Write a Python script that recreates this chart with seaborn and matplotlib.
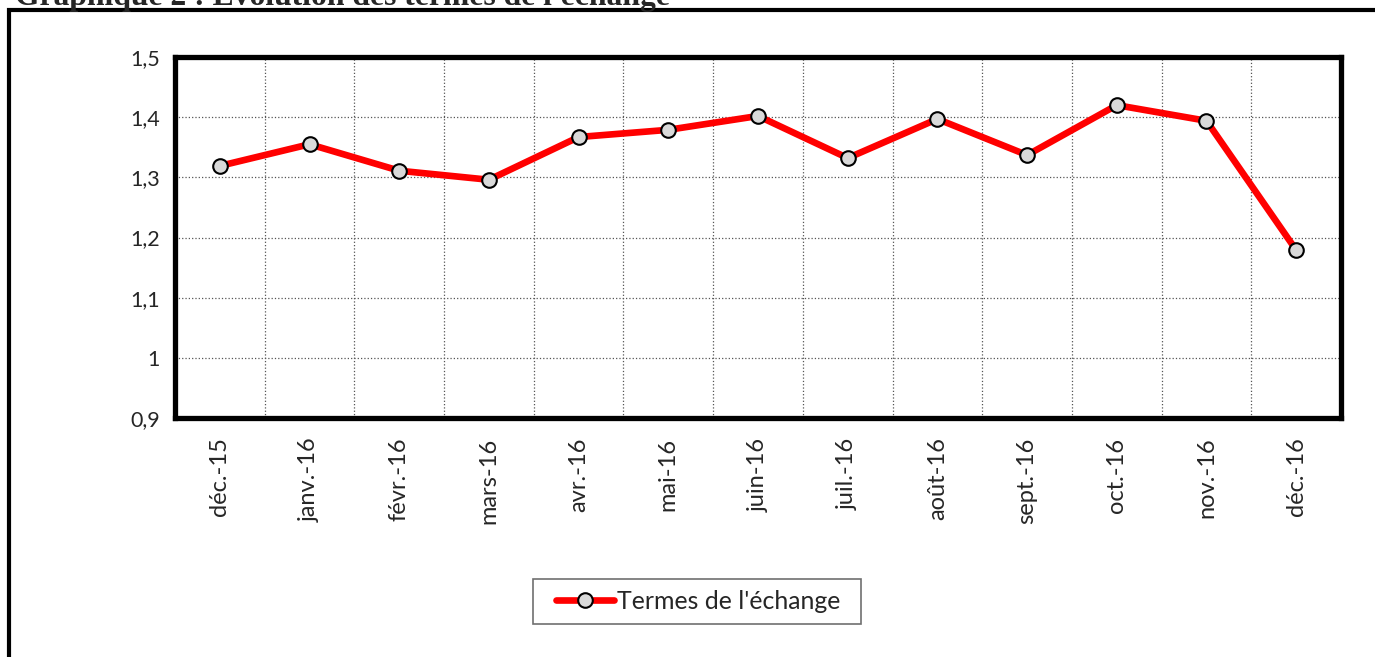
import pandas as pd
import seaborn as sns
import matplotlib.pyplot as plt
from matplotlib.lines import Line2D
from matplotlib.patches import Rectangle

# données
mois = ['déc.-15', 'janv.-16', 'févr.-16', 'mars-16', 'avr.-16', 'mai-16', 'juin-16',
        'juil.-16', 'août-16', 'sept.-16', 'oct.-16', 'nov.-16', 'déc.-16']
termes = [1.319, 1.355, 1.311, 1.296, 1.367, 1.379, 1.402,
          1.332, 1.397, 1.337, 1.420, 1.394, 1.179]
y_ticks = [0.9, 1.0, 1.1, 1.2, 1.3, 1.4, 1.5]
y_labels = ['0,9', '1', '1,1', '1,2', '1,3', '1,4', '1,5']

sns.set_style('white')
plt.rcParams['font.family'] = ['Lato', 'DejaVu Sans']

df = pd.DataFrame({'mois': mois, 'valeur': termes})
df['x'] = range(len(df))

fig = plt.figure(figsize=(13.75, 6.57), dpi=100)
ax = fig.add_axes([0.1273, 0.3638, 0.8480, 0.5494])

sns.lineplot(data=df, x='x', y='valeur', ax=ax, color='#ff0000', linewidth=4.8,
             marker='o', markersize=10.5, markerfacecolor='#d9d9d9',
             markeredgecolor='black', markeredgewidth=1.5,
             label="Termes de l'échange", sort=False)

ax.set_xlim(-0.5, len(mois) - 0.5)
ax.set_ylim(0.9, 1.5)
ax.set_xlabel('')
ax.set_ylabel('')

# graduations
ax.set_xticks(df['x'])
ax.set_xticklabels(mois, rotation=90, fontsize=17)
ax.set_xticks([i - 0.5 for i in range(len(mois) + 1)], minor=True)
ax.tick_params(axis='x', which='major', length=0, pad=14)
ax.tick_params(axis='x', which='minor', length=8, width=1, color='#808080', direction='out')
ax.set_yticks(y_ticks)
ax.set_yticklabels(y_labels, fontsize=15.5)
ax.tick_params(axis='y', length=6, width=1, color='#808080', direction='out', pad=5)

# quadrillage pointillé
ax.grid(False)
ax.grid(True, axis='y', which='major', linestyle=':', color='#555555', linewidth=0.9)
ax.grid(True, axis='x', which='minor', linestyle=':', color='#555555', linewidth=0.9)

for s in ax.spines.values():
    s.set_visible(True)
    s.set_color('black')
    s.set_linewidth(3.8)

# légende (cadre dessiné à part, comme dans Excel)
leg = ax.legend(loc='center', bbox_to_anchor=(0.508, 0.0852), bbox_transform=fig.transFigure,
                fontsize=17.9, frameon=False, handlelength=2.3,
                borderpad=0.45, handletextpad=0.15, borderaxespad=0)
fig.add_artist(Rectangle((533 / 1375, 1 - 624 / 657), 328 / 1375, 45 / 657,
                         transform=fig.transFigure, fill=False,
                         edgecolor='#707070', linewidth=1.2))

# cadre extérieur et titre coupé
fig.add_artist(Line2D([9 / 1375, 9 / 1375, 1.0], [0.0, 1 - 10 / 657, 1 - 10 / 657],
                      transform=fig.transFigure, color='black', linewidth=3,
                      solid_joinstyle='miter'))
fig.text(15 / 1375, 1 - 4.5 / 657, "Graphique 2 : Evolution des termes de l'échange",
         family='Liberation Serif', fontweight='bold', fontsize=22.8, va='baseline', ha='left')

fig.savefig('out.png', dpi=100)
